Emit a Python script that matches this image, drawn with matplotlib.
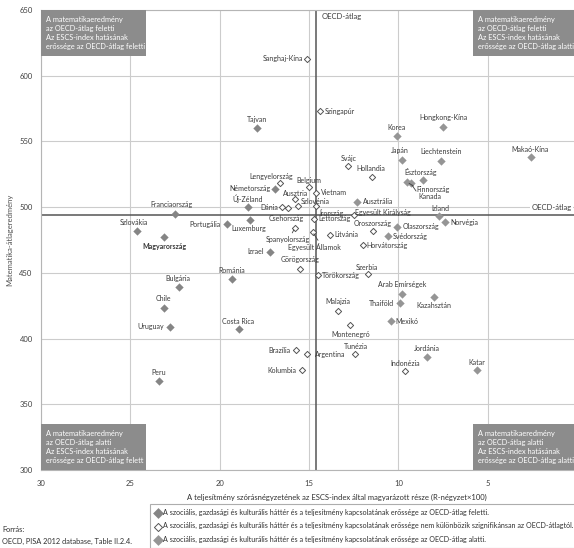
import matplotlib.pyplot as plt
from matplotlib.patches import Rectangle

plt.rcParams['font.family'] = ['Lato', 'DejaVu Sans']

# ESCS-hatás erőssége az OECD-átlag felett
above_names = ['Tajvan', 'Németország', 'Új-Zéland', 'Franciaország', 'Szlovákia', 'Magyarország',
               'Portugália', 'Luxemburg', 'Izrael', 'Románia', 'Bulgária', 'Chile', 'Uruguay',
               'Peru', 'Costa Rica']
above_x = [17.9, 16.9, 18.4, 22.5, 24.6, 23.1, 19.6, 18.3, 17.2, 19.3, 22.3, 23.1, 22.8, 23.4, 18.9]
above_y = [560, 514, 500, 495, 482, 477, 487, 490, 466, 445, 439, 423, 409, 368, 407]

# nem különbözik szignifikánsan
same_names = ['Sanghaj-Kína', 'Szingapúr', 'Svájc', 'Hollandia', 'Lengyelország', 'Belgium',
              'Vietnam', 'Ausztria', 'Szlovénia', 'Dánia', 'Csehország', 'Írország',
              'Egyesült Királyság', 'Lettország', 'Oroszország', 'Spanyolország',
              'Egyesült Államok', 'Litvánia', 'Horvátország', 'Görögország', 'Törökország',
              'Szerbia', 'Malajzia', 'Montenegró', 'Brazília', 'Argentina', 'Kolumbia',
              'Tunézia', 'Indonézia']
same_x = [15.1, 14.4, 12.8, 11.5, 16.6, 15.0, 14.6, 15.8, 15.6, 16.5, 16.2, 14.6, 12.5, 14.7,
          11.4, 15.8, 14.8, 13.8, 12.0, 15.5, 14.5, 11.7, 13.4, 12.7, 15.7, 15.1, 15.4, 12.4, 9.6]
same_y = [613, 573, 531, 523, 518, 515, 511, 506, 501, 500, 499, 501, 494, 491, 482, 484, 481,
          479, 471, 453, 448, 449, 421, 410, 391, 388, 376, 388, 375]

# ESCS-hatás erőssége az OECD-átlag alatt
below_names = ['Korea', 'Japán', 'Hongkong-Kína', 'Liechtenstein', 'Makaó-Kína', 'Észtország',
               'Finnország', 'Kanada', 'Ausztrália', 'Izland', 'Norvégia', 'Olaszország',
               'Svédország', 'Arab Emírségek', 'Thaiföld', 'Kazahsztán', 'Mexikó', 'Jordánia',
               'Katar']
below_x = [10.1, 9.8, 7.5, 7.6, 2.6, 8.6, 9.5, 9.3, 12.3, 7.7, 7.4, 10.1, 10.6, 9.8, 9.9, 8.0,
           10.4, 8.4, 5.6]
below_y = [554, 536, 561, 535, 538, 521, 519, 518, 504, 493, 489, 485, 478, 434, 427, 432, 413,
           386, 376]

oecd_x = 14.6
oecd_y = 494

x_ticks = [30, 25, 20, 15, 10, 5]
y_ticks = [300, 350, 400, 450, 500, 550, 600, 650]

legend_labels = [
    'A szociális, gazdasági és kulturális háttér és a teljesítmény kapcsolatának erőssége az OECD-átlag feletti.',
    'A szociális, gazdasági és kulturális háttér és a teljesítmény kapcsolatának erőssége nem különbözik szignifikánsan az OECD-átlagtól.',
    'A szociális, gazdasági és kulturális háttér és a teljesítmény kapcsolatának erőssége az OECD-átlag alatti.',
]

corner_texts = [
    'A matematikaeredmény\naz OECD-átlag feletti\nAz ESCS-index hatásának\nerőssége az OECD-átlag feletti',
    'A matematikaeredmény\naz OECD-átlag feletti\nAz ESCS-index hatásának\nerőssége az OECD-átlag alatti',
    'A matematikaeredmény\naz OECD-átlag alatti\nAz ESCS-index hatásának\nerőssége az OECD-átlag felett',
    'A matematikaeredmény\naz OECD-átlag alatti\nAz ESCS-index hatásának\nerőssége az OECD-átlag alatti',
]

# címke helye a ponthoz képest (pixel, lefelé pozitív)
label_pos = {
    'Tajvan': (0, -9, 'center'), 'Németország': (-5, 0, 'right'), 'Új-Zéland': (-1, -8, 'center'),
    'Franciaország': (-4, -9, 'center'), 'Szlovákia': (-4, -8, 'center'),
    'Magyarország': (0, 9, 'center'), 'Portugália': (-6, 0, 'right'), 'Luxemburg': (-1, 8, 'center'),
    'Izrael': (-6, 0, 'right'), 'Románia': (0, -9, 'center'), 'Bulgária': (-1, -9, 'center'),
    'Chile': (-1, -10, 'center'), 'Uruguay': (-6, 0, 'right'), 'Peru': (0, -8, 'center'),
    'Costa Rica': (-1, -8, 'center'),
    'Sanghaj-Kína': (-4, 0, 'right'), 'Szingapúr': (5, 0, 'left'), 'Svájc': (0, -8, 'center'),
    'Hollandia': (-1, -8, 'center'), 'Lengyelország': (-9, -7, 'center'), 'Belgium': (0, -7, 'center'),
    'Vietnam': (5, 0, 'left'), 'Ausztria': (1, -6, 'center'), 'Szlovénia': (2, -4, 'left'),
    'Dánia': (-4, 0, 'right'), 'Csehország': (-1, 10, 'center'), 'Írország': (3, 7, 'left'),
    'Egyesült Királyság': (1, -3, 'left'), 'Lettország': (4, 0, 'left'),
    'Oroszország': (-1, -7, 'center'), 'Spanyolország': (-7, 11, 'center'),
    'Egyesült Államok': (2, 15, 'center'), 'Litvánia': (4, 0, 'left'), 'Horvátország': (4, 0, 'left'),
    'Görögország': (0, -9, 'center'), 'Törökország': (4, 0, 'left'), 'Szerbia': (-1, -7, 'center'),
    'Malajzia': (0, -9, 'center'), 'Montenegró': (1, 9, 'center'), 'Brazília': (-6, 0, 'right'),
    'Argentina': (8, 0, 'left'), 'Kolumbia': (-5, 0, 'right'), 'Tunézia': (0, -8, 'center'),
    'Indonézia': (0, -8, 'center'),
    'Korea': (0, -9, 'center'), 'Japán': (-2, -9, 'center'), 'Hongkong-Kína': (0, -9, 'center'),
    'Liechtenstein': (0, -10, 'center'), 'Makaó-Kína': (0, -8, 'center'),
    'Észtország': (-3, -8, 'center'), 'Finnország': (9, 7, 'left'), 'Kanada': (8, 13, 'left'),
    'Ausztrália': (6, 0, 'left'), 'Izland': (1, -8, 'center'), 'Norvégia': (6, 1, 'left'),
    'Olaszország': (6, 0, 'left'), 'Svédország': (5, 0, 'left'), 'Arab Emírségek': (0, -9, 'center'),
    'Thaiföld': (-6, 0, 'right'), 'Kazahsztán': (0, 9, 'center'), 'Mexikó': (4, 0, 'left'),
    'Jordánia': (0, -8, 'center'), 'Katar': (0, -8, 'center'),
}
leaders = {'Finnország': (0, 0.7), 'Kanada': (0, 0.7), 'Spanyolország': (0.57, 1.0),
           'Egyesült Államok': (0.6, 1.0)}

fig = plt.figure(figsize=(5.74, 5.48), dpi=100)
ax = fig.add_axes([41 / 574, 78 / 548, 536 / 574, 460 / 548])
ax.set_xlim(30, 0)
ax.set_ylim(300, 650)
ax.set_xticks(x_ticks)
ax.set_yticks(y_ticks)
ax.tick_params(length=0, labelsize=5.5, colors='#404040')
ax.tick_params(axis='x', pad=7)
ax.tick_params(axis='y', pad=6)
ax.grid(color='#cccccc', lw=0.8)
ax.set_axisbelow(True)
for s in ax.spines.values():
    s.set_color('#b5b5b5')
    s.set_linewidth(0.8)

ax.axvline(oecd_x, color='#555555', lw=1.1, zorder=2)
ax.axhline(oecd_y, color='#555555', lw=1.1, zorder=2)

ax.scatter(above_x, above_y, marker='D', s=18, color='#858585', lw=0, zorder=3,
           label=legend_labels[0])
ax.scatter(same_x, same_y, marker='D', s=10, facecolor='white', edgecolor='#555555', lw=0.7,
           zorder=3, label=legend_labels[1])
ax.scatter(below_x, below_y, marker='D', s=18, color='#959595', lw=0, zorder=3,
           label=legend_labels[2])

for names, xs, ys in [(above_names, above_x, above_y), (same_names, same_x, same_y),
                      (below_names, below_x, below_y)]:
    for n, x, y in zip(names, xs, ys):
        dx, dy, ha = label_pos[n]
        kw = {}
        if n in leaders:
            kw['arrowprops'] = dict(arrowstyle='-', color='#444444', lw=0.6, shrinkA=0, shrinkB=1.5,
                                    relpos=leaders[n])
        ax.annotate(n, (x, y), xytext=(dx, -dy), textcoords='offset pixels', ha=ha, va='center',
                    fontsize=5, color='#3a3a3a',
                    fontweight='bold' if n == 'Magyarország' else 'normal', zorder=4, **kw)

ax.annotate('OECD-átlag', (oecd_x, 650), xytext=(5, -7), textcoords='offset pixels',
            ha='left', va='center', fontsize=5.5, color='#3a3a3a')
ax.annotate('OECD-átlag', (0, oecd_y), xytext=(-5, 8), textcoords='offset pixels',
            ha='right', va='center', fontsize=5.5, color='#3a3a3a',
            bbox=dict(fc='white', ec='none', pad=1))

bw, bh = 105 / 536, 46 / 460
corners = [(0, 1 - bh), (1 - 104 / 536, 1 - bh), (0, 0), (1 - 104 / 536, 0)]
for (cx, cy), t in zip(corners, corner_texts):
    ax.add_patch(Rectangle((cx, cy), bw if cx == 0 else 104 / 536, bh, transform=ax.transAxes,
                           facecolor='#8c8c8c', edgecolor='none', zorder=5, clip_on=False))
    ax.text(cx + 5 / 536, cy + bh / 2, t, transform=ax.transAxes, ha='left', va='center',
            fontsize=5.3, color='white', linespacing=1.3, zorder=6)

fig.text(10 / 574, 1 - 240 / 548, 'Matematika-átlageredmény', rotation=90, ha='center',
         va='center', fontsize=5.5, color='#505050')
fig.text(337 / 574, 1 - 497 / 548,
         'A teljesítmény szórásnégyzetének az ESCS-index által magyarázott része (R-négyzet×100)',
         ha='center', va='center', fontsize=5.5, color='#303030')

leg = fig.legend(loc='upper left', bbox_to_anchor=(150 / 574, 1 - 504 / 548), fontsize=5.1,
                 frameon=True, fancybox=False, edgecolor='#999999', borderaxespad=0,
                 borderpad=0.7, labelspacing=0.9, handletextpad=0.3, handlelength=0.8,
                 labelcolor='#303030', markerscale=1.3)
leg.get_frame().set_linewidth(0.8)

fig.text(2 / 574, 1 - 530 / 548, 'Forrás:', ha='left', va='center', fontsize=5.3, color='#303030')
fig.text(2 / 574, 1 - 541 / 548, 'OECD, PISA 2012 database, Table II.2.4.', ha='left',
         va='center', fontsize=5.3, color='#303030')

fig.savefig('out.png', dpi=100)
